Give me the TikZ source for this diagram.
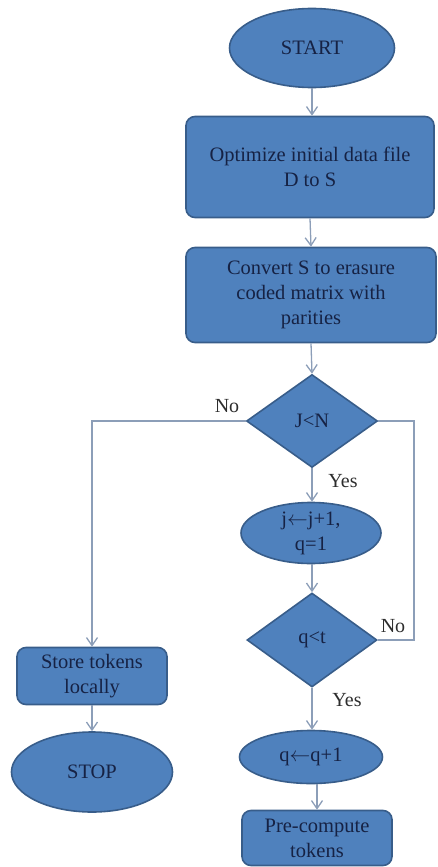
\documentclass[tikz,border=0pt]{standalone}
\usepackage{fontspec}
\setmainfont{Liberation Serif}
\newfontfamily\serf{Liberation Serif}
\usetikzlibrary{shapes.geometric,arrows.meta}
\definecolor{fillblue}{RGB}{79,129,189}
\definecolor{edgeblue}{RGB}{56,93,138}
\definecolor{txtblue}{RGB}{22,34,68}
\definecolor{linegray}{RGB}{140,158,184}
\definecolor{lblgray}{RGB}{45,45,45}
\begin{document}
\begin{tikzpicture}[x=1pt,y=-1pt,
  shapebase/.style={draw=edgeblue,line width=1.6pt,fill=fillblue,text=txtblue,inner sep=0pt,align=center,
    font=\serf\fontsize{20.5}{25}\selectfont},
  procbox/.style={shapebase,rectangle,rounded corners=9pt},
  term/.style={shapebase,ellipse},
  decide/.style={shapebase,diamond},
  flow/.style={draw=linegray,line width=1.3pt,-{Straight Barb[length=8pt,width=11pt,line width=1.3pt]}},
  plain/.style={draw=linegray,line width=1.3pt},
  lbl/.style={text=lblgray,font=\serf\fontsize{20}{22}\selectfont,inner sep=0pt}]
\useasboundingbox (0,0) rectangle (437,867);
\node[term,minimum width=165pt,minimum height=79pt] (start) at (312,48) {START};
\node[procbox,minimum width=248pt,minimum height=101pt] (opt) at (310,167) {Optimize initial data file\\D to S};
\node[procbox,minimum width=250pt,minimum height=95pt] (conv) at (311,295) {Convert S to erasure\\coded matrix with\\parities};
\node[decide,minimum width=131pt,minimum height=93pt] (jn) at (312,421) {J<N};
\node[term,minimum width=140pt,minimum height=61pt] (jq) at (311,533) {j$\leftarrow$j+1,\\q=1};
\node[decide,minimum width=130pt,minimum height=94pt] (qt) at (312,640) {q<t};
\node[term,minimum width=143pt,minimum height=53pt] (qq) at (311,757) {q$\leftarrow$q+1};
\node[procbox,minimum width=150pt,minimum height=55pt] (pre) at (317,838) {Pre-compute\\tokens};
\node[procbox,minimum width=150pt,minimum height=57pt] (store) at (92,676) {Store tokens\\locally};
\node[term,minimum width=161pt,minimum height=80pt] (stop) at (92,772) {STOP};
\coordinate (rc) at (414,421);
\draw[flow] (start.south) -- (opt.north -| start.south);
\draw[flow] (opt.south) -- (conv.north);
\draw[flow] (conv.south) -- (jn.north);
\draw[flow] (jn.west) -| (store.north);
\draw[plain] (jn.east) -- (rc) |- (qt.east);
\draw[flow] (jn.south) -- (jq.north -| jn.south);
\draw[flow] (jq.south -| qt.north) -- (qt.north);
\draw[flow] (qt.south) -- (qq.north -| qt.south);
\draw[flow] (qq.south -| pre.north) -- (pre.north);
\draw[flow] (store.south) -- (stop.north);
\node[lbl] (no1) at (227,406) {No};
\node[lbl] (yes1) at (343,481) {Yes};
\node[lbl] (no2) at (393,626) {No};
\node[lbl] (yes2) at (347,700) {Yes};
\end{tikzpicture}
\end{document}
